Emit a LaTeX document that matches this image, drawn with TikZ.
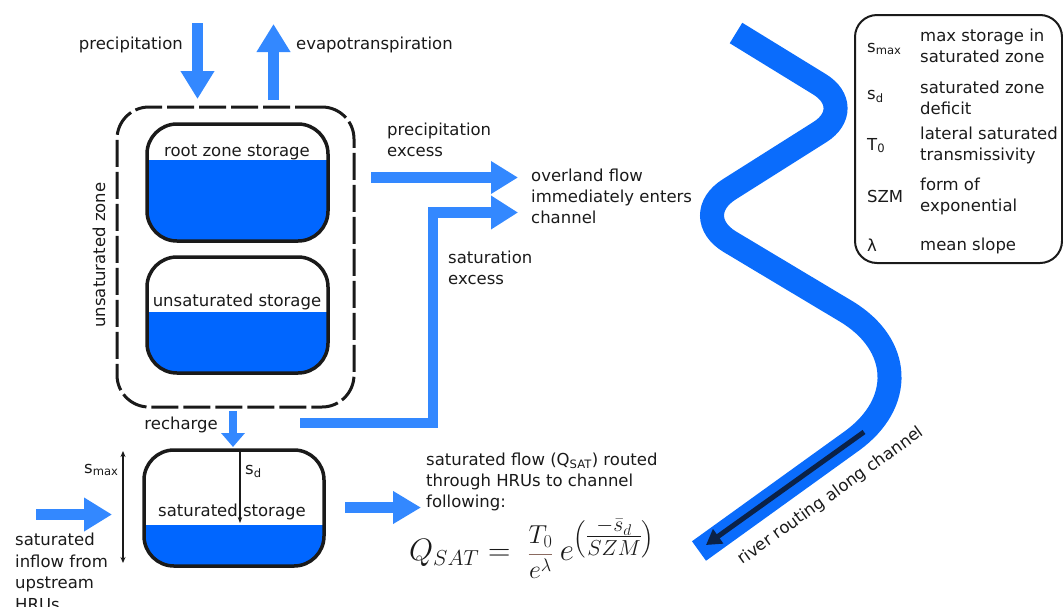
\documentclass[tikz,border=0pt]{standalone}
\usepackage{fix-cm}
\usepackage{amsmath}
\usepackage{fontspec}
\setmainfont{DejaVu Sans}
\usetikzlibrary{arrows.meta}

\definecolor{flowblue}{HTML}{3388FF}
\definecolor{waterblue}{HTML}{0066FF}
\definecolor{riverblue}{HTML}{0A6CFC}
\definecolor{routenavy}{HTML}{0B2247}
\definecolor{barbrown}{HTML}{8A6A60}
\definecolor{ink}{HTML}{1A1A1A}

\begin{document}
\begin{tikzpicture}[x=1pt, y=-1pt,
  every node/.style={font=\fontsize{16.5}{21}\selectfont, inner sep=0pt, text=ink},
  flow/.style={draw=flowblue, line width=11pt, line join=miter,
               -{Triangle[length=28pt,width=32pt]}},
  tank/.style={draw=ink, line width=3.5pt, rounded corners=30pt,
               minimum width=181pt, minimum height=117pt},
  water/.style={path picture={\fill[waterblue, sharp corners]
      (path picture bounding box.south west) rectangle
      ([yshift=#1]path picture bounding box.south east);}},
  lines/.style={align=left, anchor=north west},
  thin/.style={draw=ink, line width=1.1pt}]

\useasboundingbox (0,0) rectangle (1063,606);
\clip (0,0) rectangle (1063,606);

% ---------- unsaturated zone ----------
\node (uzone) [draw=ink, line width=3pt, dash pattern=on 27pt off 5pt,
  rounded corners=32pt, minimum width=237pt, minimum height=300pt] at (235.5,257) {};
\node (uzonelab) [rotate=90, anchor=base] at (105,255) {unsaturated zone};

\node (root) [tank, water=81pt] at (237.5,182.5) {};
\node (rootlab) [anchor=base] at (237,156) {root zone storage};

\node (unsat) [tank, water=61pt, minimum height=116pt] at (237.5,315) {};
\node (unsatlab) [anchor=base] at (237,306) {unsaturated storage};

% ---------- saturated zone ----------
\node (sat) [tank, water=41pt, minimum width=180pt, minimum height=116pt] at (234,508) {};
\node (satlab) [anchor=base] at (232,516) {saturated storage};

\coordinate (sdTop) at (240,450);
\coordinate (sdEnd) at (240,523);
\draw[thin, -{Stealth[length=6pt,width=4.5pt]}] (sdTop) -- (sdEnd);
\node (sdlab) [anchor=base west] at (245,474) {s\textsubscript{d}};

\coordinate (smaxTop) at (123,451);
\coordinate (smaxEnd) at (123,563);
\draw[thin, {Stealth[length=6pt,width=5pt]}-{Stealth[length=6pt,width=5pt]}] (smaxTop) -- (smaxEnd);
\node (smaxlab) [anchor=base west] at (84,473) {s\textsubscript{max}};

% ---------- vertical fluxes ----------
\coordinate (precTop) at (197.5,23);
\coordinate (precEnd) at (197.5,99);
\draw[flow] (precTop) -- (precEnd);
\node (preclab) [anchor=base east] at (183,49) {precipitation};

\coordinate (etStart) at (273.5,100);
\coordinate (etEnd) at (273.5,24);
\draw[flow] (etStart) -- (etEnd);
\node (etlab) [anchor=base west] at (296,49) {evapotranspiration};

\coordinate (rechTop) at (233,411);
\coordinate (rechEnd) at (233,447);
\draw[flow, line width=8pt, -{Triangle[length=14pt,width=23pt]}] (rechTop) -- (rechEnd);
\node (rechlab) [anchor=base east] at (218,429) {recharge};

% ---------- lateral fluxes ----------
\coordinate (inStart) at (36,514.5);
\coordinate (inEnd) at (112,514.5);
\draw[flow] (inStart) -- (inEnd);
\node (inlab) [lines, font=\fontsize{16.5}{21.5}\selectfont] at (15,530.3)
  {\strut saturated\\inflow from\\upstream\\HRUs};

\coordinate (outStart) at (345,507.5);
\coordinate (outEnd) at (421,507.5);
\draw[flow, -{Triangle[length=28pt,width=31pt]}] (outStart) -- (outEnd);
\node (outlab) [lines] at (426,450.3)
  {\strut saturated flow (Q\textsubscript{SAT}) routed\\through HRUs to channel\\following:};

\coordinate (pexStart) at (371,177.5);
\coordinate (pexEnd) at (518,177.5);
\draw[flow, -{Triangle[length=27pt,width=31pt]}] (pexStart) -- (pexEnd);
\node (pexlab) [lines] at (387,120.3) {\strut precipitation\\excess};

\coordinate (sexStart) at (300,423);
\coordinate (sexBend1) at (433,423);
\coordinate (sexBend2) at (433,212.5);
\coordinate (sexEnd) at (518,212.5);
\draw[flow, line width=10.5pt, -{Triangle[length=27pt,width=32pt]}]
  (sexStart) -- (sexBend1) -- (sexBend2) -- (sexEnd);
\node (sexlab) [lines] at (448,248.3) {\strut saturation\\excess};

\node (overlab) [lines] at (531,166.3) {\strut overland flow\\immediately enters\\channel};

% ---------- outflow equation ----------
\node (qsat) [anchor=west] at (409,549) {\fontsize{31}{36}\selectfont
  $Q_{SAT} =$\hspace{0.55em}%
  {\fontsize{26}{30}\selectfont$\color{barbrown}\dfrac{\color{ink}T_0}{\color{ink}e^{\lambda}}$}%
  \hspace{0.2em}%
  $e^{\left(\genfrac{}{}{}{1}{-\bar{s}_d}{SZM}\right)}$};

% ---------- river channel ----------
\draw[riverblue, line width=24pt]
  (736,33) -- (819.7,84.4)
  .. controls (840.7,97.4) and (840.9,118.8) .. (820.0,132.0)
  -- (729.3,189.3)
  .. controls (706.0,204.0) and (706.3,227.6) .. (729.9,241.8)
  -- (846.2,311.4)
  .. controls (901.8,344.9) and (904.2,403.2) .. (851.6,441.1)
  -- (699,551);
\coordinate (routeStart) at (864,432);
\coordinate (routeEnd) at (706,545);
\draw[routenavy, line width=5pt, -{Triangle[length=15pt,width=17pt]}] (routeStart) -- (routeEnd);
\node (routelab) [rotate=35.7] at (831,496) {river routing along channel};

% ---------- legend ----------
\node (legend) [draw=ink, line width=2pt, rounded corners=22pt,
  minimum width=207pt, minimum height=248pt] at (958.5,139) {};
\node (lg1s) [anchor=base west] at (867,52) {s\textsubscript{max}};
\node (lg1t) [lines] at (920,26.3) {\strut max storage in\\saturated zone};
\node (lg2s) [anchor=base west] at (867,99) {s\textsubscript{d}};
\node (lg2t) [lines] at (920,78.3) {\strut saturated zone\\deficit};
\node (lg3s) [anchor=base west] at (867,150) {T\textsubscript{0}};
\node (lg3t) [lines] at (920,124.3) {\strut lateral saturated\\transmissivity};
\node (lg4s) [anchor=base west] at (867,202) {SZM};
\node (lg4t) [lines] at (920,175.3) {\strut form of\\exponential};
\node (lg5s) [anchor=base west] at (867,251) {λ};
\node (lg5t) [anchor=base west] at (920,250) {mean slope};

\end{tikzpicture}
\end{document}
